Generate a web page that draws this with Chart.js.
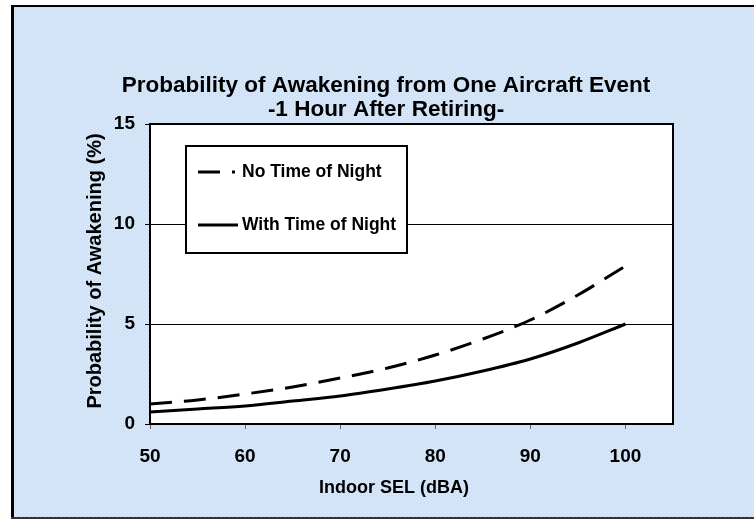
<!DOCTYPE html>
<html>
<head>
<meta charset="utf-8">
<script src="https://cdn.jsdelivr.net/npm/chart.js@4.4.1/dist/chart.umd.min.js"></script>
<style>
  html, body { margin: 0; padding: 0; background: #fff; }
  #wrap { width: 754px; height: 521px; }
</style>
</head>
<body>
<div id="wrap"><canvas id="chart" width="754" height="521"></canvas></div>
<script>
// Indoor SEL (dBA) on the x axis
const selLevels = [50, 55, 60, 65, 70, 75, 80, 85, 90, 95, 100];
// probability of awakening (%)
const noTimeOfNight = [1.0, 1.2, 1.5, 1.85, 2.3, 2.8, 3.45, 4.25, 5.2, 6.45, 7.9];
const withTimeOfNight = [0.6, 0.75, 0.9, 1.15, 1.4, 1.75, 2.15, 2.65, 3.25, 4.05, 5.0];
const xTicks = [50, 60, 70, 80, 90, 100];
const yTicks = [0, 5, 10, 15];
const seriesNames = ['No Time of Night', 'With Time of Night'];
const titleLines = ['Probability of Awakening from One Aircraft Event', '-1 Hour After Retiring-'];
const xTitle = 'Indoor SEL (dBA)';
const yTitle = 'Probability of Awakening (%)';

const FONT = '"Liberation Sans", Arial, sans-serif';
const DASH = [22, 12];

function toPoints(ys) {
  return selLevels.map((x, i) => ({ x: x, y: ys[i] }));
}

// light blue dotted fill like the original sheet
function makePattern(ctx) {
  const c = document.createElement('canvas');
  c.width = 4; c.height = 4;
  const p = c.getContext('2d');
  p.fillStyle = '#cbe3fd';
  p.fillRect(0, 0, 4, 4);
  p.fillStyle = '#e9f3ff';
  p.fillRect(0, 0, 1, 1);
  p.fillRect(2, 2, 1, 1);
  return ctx.createPattern(c, 'repeat');
}

const backdrop = {
  id: 'backdrop',
  beforeDraw(chart) {
    const { ctx, chartArea: a } = chart;
    ctx.save();
    ctx.fillStyle = '#fff';
    ctx.fillRect(0, 0, chart.width, chart.height);
    ctx.fillStyle = makePattern(ctx);
    ctx.fillRect(11, 5, chart.width - 11, 514);
    // frame
    ctx.fillStyle = '#000';
    ctx.fillRect(11, 5, 3, 514);
    ctx.fillRect(11, 5, chart.width - 11, 2);
    ctx.fillStyle = '#333';
    ctx.fillRect(11, 517, chart.width - 11, 2);
    // white plot area
    ctx.fillStyle = '#fff';
    ctx.fillRect(a.left, a.top, a.right - a.left, a.bottom - a.top);
    ctx.restore();
  },
  afterDraw(chart) {
    const { ctx, chartArea: a } = chart;
    ctx.save();
    // plot border
    ctx.strokeStyle = '#000';
    ctx.lineWidth = 2;
    ctx.strokeRect(a.left, a.top, a.right - a.left, a.bottom - a.top);

    // titles
    ctx.fillStyle = '#000';
    ctx.textAlign = 'center';
    ctx.textBaseline = 'middle';
    ctx.font = 'bold 22.5px ' + FONT;
    ctx.fillText(titleLines[0], 386, 86);
    ctx.fillText(titleLines[1], 386, 110);
    ctx.font = 'bold 18px ' + FONT;
    ctx.fillText(xTitle, 394, 488);
    ctx.font = 'bold 20px ' + FONT;
    ctx.translate(95, 271);
    ctx.rotate(-Math.PI / 2);
    ctx.fillText(yTitle, 0, 0);
    ctx.setTransform(1, 0, 0, 1, 0, 0);

    // legend box
    const lx = 186, ly = 146, lw = 221, lh = 107;
    ctx.fillStyle = '#fff';
    ctx.fillRect(lx, ly, lw, lh);
    ctx.strokeStyle = '#000';
    ctx.lineWidth = 2;
    ctx.strokeRect(lx, ly, lw, lh);
    const rows = [172, 225];
    chart.data.datasets.forEach((ds, i) => {
      ctx.beginPath();
      ctx.lineWidth = 3;
      ctx.setLineDash(ds.borderDash || []);
      ctx.moveTo(198, rows[i]);
      ctx.lineTo(i === 0 ? 235 : 238, rows[i]);
      ctx.stroke();
      ctx.setLineDash([]);
      ctx.fillStyle = '#000';
      ctx.textAlign = 'left';
      ctx.font = 'bold 17.5px ' + FONT;
      ctx.fillText(ds.label, 242, rows[i]);
    });
    ctx.restore();
  }
};

new Chart(document.getElementById('chart'), {
  type: 'line',
  data: {
    datasets: [
      {
        label: seriesNames[0],
        data: toPoints(noTimeOfNight),
        borderColor: '#000',
        borderWidth: 3,
        borderDash: DASH,
        pointRadius: 0,
        fill: false,
        cubicInterpolationMode: 'monotone'
      },
      {
        label: seriesNames[1],
        data: toPoints(withTimeOfNight),
        borderColor: '#000',
        borderWidth: 3,
        pointRadius: 0,
        fill: false,
        cubicInterpolationMode: 'monotone'
      }
    ]
  },
  options: {
    responsive: false,
    animation: false,
    devicePixelRatio: 1,
    layout: { padding: { left: 0, top: 124, right: 81, bottom: 0 } },
    plugins: {
      legend: { display: false },
      title: { display: false },
      tooltip: { enabled: false }
    },
    scales: {
      x: {
        type: 'linear',
        min: 50,
        max: 105,
        afterFit(scale) { scale.height = 97; },
        afterBuildTicks(scale) { scale.ticks = xTicks.map(v => ({ value: v })); },
        grid: { drawOnChartArea: false, drawTicks: true, tickLength: 5, tickColor: '#666', tickWidth: 1 },
        border: { display: true, color: '#000', width: 2 },
        ticks: {
          padding: 16,
          color: '#000',
          font: { family: FONT, size: 19, weight: 'bold' },
          maxRotation: 0
        }
      },
      y: {
        min: 0,
        max: 15,
        afterFit(scale) { scale.width = 150; },
        afterBuildTicks(scale) { scale.ticks = yTicks.map(v => ({ value: v })); },
        grid: { color: '#000', lineWidth: 1, drawTicks: true, tickLength: 5, tickColor: '#000' },
        border: { display: true, color: '#000', width: 2 },
        ticks: {
          padding: 10,
          color: '#000',
          font: { family: FONT, size: 19, weight: 'bold' }
        }
      }
    }
  },
  plugins: [backdrop]
});
</script>
</body>
</html>
